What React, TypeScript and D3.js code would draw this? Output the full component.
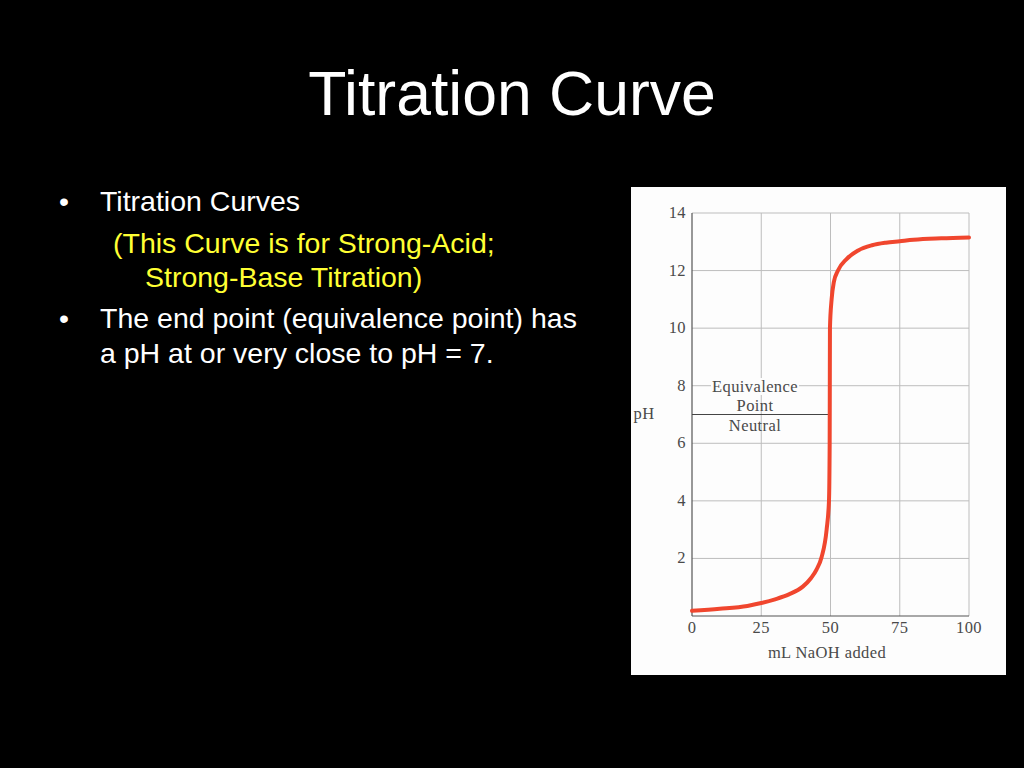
import React from "react";
import * as d3 from "d3";

const volumeML = [0, 10, 20, 25, 30, 35, 40, 43, 45, 46.8, 48.6, 49.45, 49.7, 49.75, 49.8, 50.4, 51.2, 52.7, 55.8, 60, 65, 70, 75, 80, 90, 100];
const pHValues = [0.18, 0.25, 0.35, 0.45, 0.58, 0.75, 1.02, 1.32, 1.62, 2.05, 3.0, 4.0, 6.0, 8.0, 10.0, 11.0, 11.6, 12.0, 12.4, 12.7, 12.88, 12.97, 13.02, 13.07, 13.12, 13.15];
const xTicks = [0, 25, 50, 75, 100];
const yTicks = [2, 4, 6, 8, 10, 12, 14];
const equivalencePH = 7;
const equivalenceML = 49.7;

export default function App() {
  const x = d3.scaleLinear().domain([0, 100]).range([692, 969]);
  const y = d3.scaleLinear().domain([0, 14]).range([616, 213]);
  const pts: [number, number][] = volumeML.map((v, i) => [v, pHValues[i]]);
  const line = d3
    .line<[number, number]>()
    .x((d) => x(d[0]))
    .y((d) => y(d[1]))
    .curve(d3.curveMonotoneX);
  const serif = "'Liberation Serif', 'DejaVu Serif', serif";
  const sans = "'Liberation Sans', Arial, sans-serif";
  return (
    <svg
      width={1024}
      height={768}
      style={{ position: "absolute", left: 0, top: 0, background: "#000" }}
    >
      <rect x={0} y={0} width={1024} height={768} fill="#000" />
      <text x={512} y={115} textAnchor="middle" fill="#fff" fontFamily={sans} fontSize={62.5}>
        Titration Curve
      </text>
      <g fontFamily={sans} fontSize={28.5}>
        <text x={59} y={211} fill="#fff">•</text>
        <text x={100} y={211} fill="#fff">Titration Curves</text>
        <text x={113} y={253} fill="#ffff33">(This Curve is for Strong-Acid;</text>
        <text x={145} y={287} fill="#ffff33">Strong-Base Titration)</text>
        <text x={59} y={328} fill="#fff">•</text>
        <text x={100} y={328} fill="#fff">The end point (equivalence point) has</text>
        <text x={100} y={363} fill="#fff">a pH at or very close to pH = 7.</text>
      </g>
      <rect x={631} y={187} width={375} height={488} fill="#fdfdfd" />
      <g>
        {xTicks.filter((t) => t > 0).map((t) => (
          <line key={"gx" + t} x1={x(t)} x2={x(t)} y1={y(14)} y2={y(0)} stroke="#bdbdbd" strokeWidth={1} />
        ))}
        {yTicks.map((t) => (
          <line key={"gy" + t} x1={x(0)} x2={x(100)} y1={y(t)} y2={y(t)} stroke="#bdbdbd" strokeWidth={1} />
        ))}
        <line x1={x(0)} x2={x(0)} y1={y(14)} y2={y(0)} stroke="#555" strokeWidth={1.2} />
        <line x1={x(0)} x2={x(100)} y1={y(0)} y2={y(0)} stroke="#555" strokeWidth={1.2} />
        <line
          x1={x(0)}
          x2={x(equivalenceML)}
          y1={y(equivalencePH)}
          y2={y(equivalencePH)}
          stroke="#444"
          strokeWidth={1.2}
        />
      </g>
      <g fontFamily={serif} fill="#4a4a4a" fontSize={16.5} letterSpacing={0.4}>
        {yTicks.map((t) => (
          <text key={"ty" + t} x={686} y={y(t) + 5} textAnchor="end">
            {t}
          </text>
        ))}
        {xTicks.map((t) => (
          <text key={"tx" + t} x={x(t)} y={633} textAnchor="middle">
            {t}
          </text>
        ))}
        <text x={827} y={658} textAnchor="middle">mL NaOH added</text>
        <text x={644} y={419} textAnchor="middle">pH</text>
        <rect x={711} y={378} width={88} height={17} fill="#fdfdfd" />
        <text x={755} y={392} textAnchor="middle">Equivalence</text>
        <text x={755} y={411} textAnchor="middle">Point</text>
        <text x={755} y={431} textAnchor="middle">Neutral</text>
      </g>
      <path d={line(pts) || ""} fill="none" stroke="#f0462e" strokeWidth={4} strokeLinejoin="round" strokeLinecap="round" />
    </svg>
  );
}
